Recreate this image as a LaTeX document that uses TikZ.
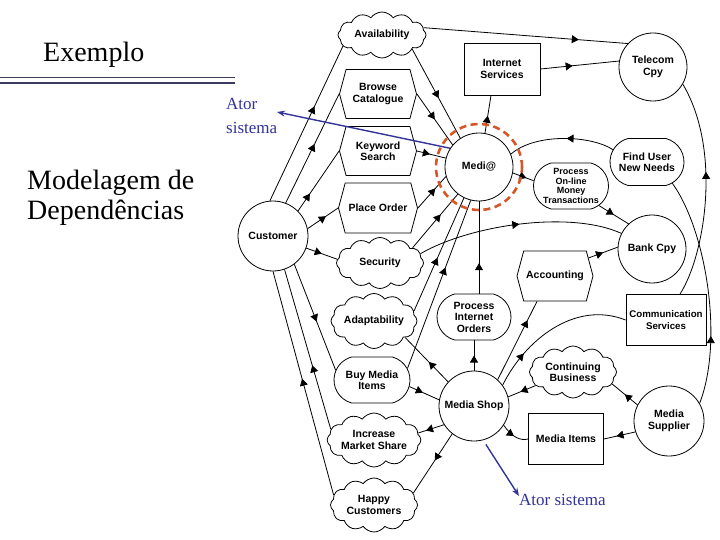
\documentclass[tikz,border=0pt]{standalone}
\usepackage{fontspec}
\usetikzlibrary{arrows.meta,decorations.markings,shapes.symbols,shapes.misc}
\newfontfamily\labfont{Liberation Sans}
\newfontfamily\serfont{Liberation Serif}
\definecolor{navy}{RGB}{51,51,153}
\definecolor{rulecol}{RGB}{60,60,95}
\definecolor{ringred}{RGB}{214,86,40}
\tikzset{
  base/.style={font=\labfont\bfseries\fontsize{10.5}{11.5}\selectfont, align=center, draw, fill=white, line width=0.8pt, inner sep=0pt},
  actor/.style={base, circle, minimum size=#1},
  actor/.default=68pt,
  res/.style={base, rectangle},
  goalbox/.style={base, rounded rectangle, rounded rectangle arc length=150},
  taskbox/.style={base, signal, signal to=east and west, signal pointer angle=150},
  soft/.style={base, cloud, cloud puffs=12, cloud puff arc=110, cloud ignores aspect},
  dep/.style={line width=0.8pt, postaction={decorate, decoration={markings, mark=at position #1 with {\arrow{Triangle[length=7pt,width=8pt]}}}}},
  dep/.default=0.5,
  atorarrow/.style={draw=navy, line width=1.4pt, -{Stealth[length=8pt,width=6pt]}},
  atortxt/.style={font=\serfont\fontsize{17}{24}\selectfont, text=navy, inner sep=0pt, align=left},
  bigtxt/.style={font=\serfont\fontsize{28}{30}\selectfont, inner sep=0pt, align=left}
}
\begin{document}
\begin{tikzpicture}[x=1pt,y=-1pt]
\useasboundingbox (0,0) rectangle (720,540);
\fill[white] (0,0) rectangle (720,540);

% titles
\node[bigtxt, anchor=base west] (ex) at (43,62) {Exemplo};
\draw[rulecol, line width=1.2pt] (0,77.5) -- (235,77.5);
\draw[rulecol, line width=1.2pt] (0,83) -- (235,83);
\node[bigtxt, anchor=north west] (mod) at (27,170) {Modelagem de\\Depend\^encias};

% nodes
\node[soft, minimum width=88pt, minimum height=46pt] (av) at (382,35) {Availability};
\node[taskbox, minimum width=77pt, minimum height=49pt] (bc) at (378,94) {Browse\\Catalogue};
\node[taskbox, minimum width=77pt, minimum height=49pt] (ks) at (378,151) {Keyword\\Search};
\node[taskbox, minimum width=79pt, minimum height=50pt] (po) at (378,208) {Place Order};
\node[soft, minimum width=87pt, minimum height=51pt] (se) at (380,263) {Security};
\node[soft, minimum width=86pt, minimum height=55pt] (ad) at (374,321) {Adaptability};
\node[goalbox, minimum width=76pt, minimum height=46pt] (bm) at (372,380) {Buy Media\\Items};
\node[soft, minimum width=87pt, minimum height=54pt] (im) at (374,440) {Increase\\Market Share};
\node[soft, minimum width=87pt, minimum height=54pt] (hc) at (374,505) {Happy\\Customers};
\node[actor=70pt] (cu) at (273,236) {Customer};
\node[actor=68pt] (med) at (479,167) {Medi@};
\node[res, minimum width=76pt, minimum height=52pt] (is) at (502,69) {Internet\\Services};
\node[actor=68pt] (tel) at (653,67) {Telecom\\Cpy};
\node[goalbox, minimum width=74pt, minimum height=47pt] (fu) at (647,162) {Find User\\New Needs};
\node[goalbox, minimum width=75pt, minimum height=46pt, font=\labfont\bfseries\fontsize{9}{9.6}\selectfont] (pm) at (571,186) {Process\\On-line\\Money\\Transactions};
\node[actor=68pt] (bk) at (652,249) {Bank Cpy};
\node[taskbox, minimum width=76pt, minimum height=50pt] (ac) at (555,276) {Accounting};
\node[goalbox, minimum width=74pt, minimum height=46pt] (pi) at (474,317) {Process\\Internet\\Orders};
\node[res, minimum width=80pt, minimum height=51pt, font=\labfont\bfseries\fontsize{9.7}{11.5}\selectfont] (cs) at (666,320) {Communication\\Services};
\node[soft, minimum width=87pt, minimum height=52pt] (cb) at (573,372) {Continuing\\Business};
\node[actor=70pt] (msh) at (474,406) {Media Shop};
\node[res, minimum width=75pt, minimum height=51pt] (mi) at (566,439) {Media Items};
\node[actor=70pt] (sup) at (669,421) {Media\\Supplier};

% dependencies: Customer side
\draw[dep=0.61] (cu.95) -- (av.196);
\draw[dep=0.54] (cu.69) -- (bc.west);
\draw[dep=0.29] (cu.45) -- (ks.west);
\draw[dep=0.6] (cu.12) -- (po.west);
\draw[dep=0.5] (cu.-20) -- (se.175);
\draw[dep=0.54] (cu.-53) -- (bm.165);
\draw[dep=0.4] (im.166) -- (cu.-71);
\draw[dep=0.52] (hc.166) -- (cu.-90);

% to Medi@
\draw[dep=0.55] (av.335) -- (med.123);
\draw[dep=0.5] (bc.east) -- (med.140);
\draw[dep=0.45] (ks.east) -- (med.165);
\draw[dep=0.62] (po.east) -- (med.196);
\draw[dep=0.62] (se.25) -- (med.232);
\draw[dep=0.47] (ad.14) -- (med.244);
\draw[dep=0.6] (bm.18) -- (med.256);
\draw[dep=0.33] ([xshift=5pt]pi.north) -- (med.south);
\draw[dep=0.5] (msh.north) -- (pi.south);
\draw[dep=0.46] (med.80) -- ([xshift=-11pt]is.south);
\draw[dep=0.45] (fu.160) .. controls (590,135) and (535,133) .. (med.22);
\draw[dep=0.65] (med.-10) -- (pm.172);

% Telecom, Bank
\draw[dep=0.41] (is.east) -- (tel.170);
\draw[dep=0.76] (av.10) -- (tel.137);
\draw[dep=0.5] (pm.-35) -- (bk.133);
\draw[dep=0.5] (se.13) .. controls (470,225) and (570,210) .. (bk.153);
\draw[dep=0.5] ([xshift=-5pt,yshift=18pt]ac.east) -- (bk.177);
\draw[dep=0.76] (msh.48) -- ([xshift=-18pt]ac.south);
\draw[dep=0.25] (msh.36) .. controls (525,340) and (575,300) .. (cs.west);
\draw[dep=0.58] ([xshift=14pt]cs.north) .. controls (705,255) and (722,150) .. (tel.-30);
\draw[dep=0.3] (sup.30) .. controls (724,340) and (706,230) .. (fu.-40);

% Media Shop / Supplier
\draw[dep=0.5] (sup.153) -- (cb.-17);
\draw[dep=0.55] (cb.200) -- (msh.15);
\draw[dep=0.5] (msh.-33) .. controls (512,437) and (520,441) .. (mi.west);
\draw[dep=0.6] (sup.198) -- (mi.east);
\draw[dep=0.45] (msh.137) -- (ad.332);
\draw[dep=0.45] (bm.350) -- (msh.170);
\draw[dep=0.7] (msh.212) -- (im.9);
\draw[dep=0.45] (msh.232) -- (hc.17);

% ring around Medi@
\node[circle, draw=ringred, line width=2.6pt, dash pattern=on 7pt off 4.5pt, minimum size=86pt, inner sep=0pt] (ring) at (med) {};

% Ator sistema annotations
\coordinate (t1) at (277,112);
\draw[atorarrow] (med.147) -- (t1);
\node[atortxt, anchor=north west] (at1) at (226,98) {Ator\\sistema};
\coordinate (t2) at (519,496);
\draw[atorarrow, shorten <=5pt] (msh.285) -- (t2);
\node[atortxt, anchor=west] (at2) at (519,500) {Ator sistema};
\end{tikzpicture}
\end{document}
